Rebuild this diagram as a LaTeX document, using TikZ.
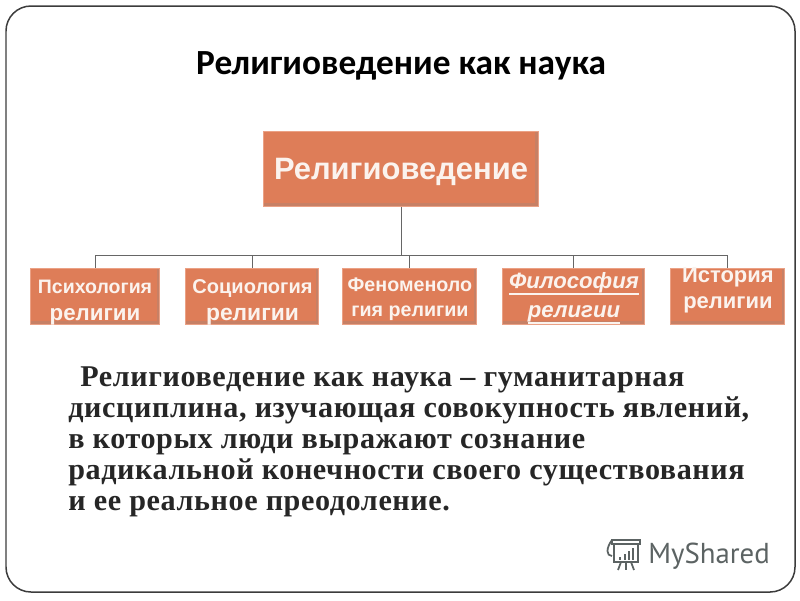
\documentclass[tikz,border=0pt]{standalone}
\usepackage{fontspec}
\setmainfont{Liberation Sans}
\newfontfamily\titlefont{Carlito}
\newfontfamily\bodyfont[LetterSpace=2.0]{Liberation Serif}
\newfontfamily\logofont{PT Sans}
\usepackage{xcolor}
\usetikzlibrary{positioning, calc}
\definecolor{boxfill}{HTML}{DE7D58}
\definecolor{boxedge}{HTML}{EBA185}
\definecolor{boxdark}{HTML}{B9603F}
\definecolor{boxtxt}{HTML}{FBF3EE}
\definecolor{framegray}{HTML}{3C3C3C}
\definecolor{logogray}{HTML}{5C6363}
\newcommand{\boxlines}[3]{\raisebox{#1}[0pt][0pt]{\begin{tabular}{@{}c@{}}#2\\#3\end{tabular}}}
\newcommand{\thickul}[1]{\smash{\vtop{\hbox{#1}\hrule height 0.9pt}}}

\begin{document}
\begin{tikzpicture}[
  x=0.02cm, y=-0.02cm,
  node distance = 0.5cm,
  bevelbox/.style = {rectangle, fill=boxfill, draw=boxedge, line width=0.02cm,
                  inner sep=0pt, align=center, text=boxtxt,
                  path picture={
                    \draw[boxdark!80, line width=0.12cm]
                      (path picture bounding box.south west) -- (path picture bounding box.south east)
                      -- (path picture bounding box.north east);
                  }},
  subbox/.style = {bevelbox, minimum height=1.12cm},
  conn/.style   = {draw=black!60, line width=0.02cm},
]
\useasboundingbox (0,0) rectangle (800,600);

%% -- frame and title --
\draw[framegray, line width=0.03cm, rounded corners=0.5cm] (6,6) rectangle (795,592);
\node[font=\titlefont\fontsize{20.1}{24}\selectfont\bfseries] (title) at (401,66) {Религиоведение как наука};

%% -- boxes --
\node[bevelbox, minimum width=5.5cm, minimum height=1.5cm,
      font=\fontsize{17.6}{21}\selectfont\bfseries] (root) at (401,168.5) {\raisebox{-0.21cm}[0pt][0pt]{Религиоведение}};
\node[subbox, minimum width=2.6cm, font=\fontsize{11.1}{15.4}\selectfont\bfseries] (psych) at (95,296)
     {\boxlines{-0.21cm}{Психология}{\fontsize{12.7}{15.4}\selectfont религии}};
\node[subbox, minimum width=2.66cm, right=0.5cm of psych, font=\fontsize{11.4}{15.4}\selectfont\bfseries] (socio)
     {\boxlines{-0.21cm}{Социология}{\fontsize{13}{15.4}\selectfont религии}};
\node[subbox, minimum width=2.68cm, right=0.46cm of socio, font=\fontsize{11.2}{13.7}\selectfont\bfseries] (phenom)
     {\boxlines{-0.16cm}{Феноменоло}{гия религии}};
\node[subbox, minimum width=2.84cm, right=0.5cm of phenom, font=\fontsize{12.6}{16.5}\selectfont\bfseries\itshape] (philos)
     {\boxlines{-0.13cm}{\thickul{Философия}}{\thickul{религии}}};
\node[subbox, minimum width=2.28cm, right=0.5cm of philos, font=\fontsize{12.5}{14.8}\selectfont\bfseries] (hist)
     {\boxlines{0cm}{История}{религии}};

%% -- connectors --
\coordinate (bus) at (401,255);
\draw[conn] (root.south) -- (bus);
\foreach \child in {psych,socio,phenom,philos,hist}
  \draw[conn] (bus) -| (\child.north);

%% -- paragraph --
\node[anchor=north west, inner sep=0pt, align=left, text=black!85,
      font=\bodyfont\fontsize{17.15}{17.65}\selectfont\bfseries] (body) at (68,366)
  {\hspace{0.24cm}Религиоведение как наука – гуманитарная\\
   дисциплина, изучающая совокупность явлений,\\
   в которых люди выражают сознание\\
   радикальной конечности своего существования\\
   и ее реальное преодоление.};

%% -- logo --
\node[anchor=base west, inner sep=0pt, text=logogray,
      font=\logofont\fontsize{16.4}{20}\selectfont] (logo) at (648,563) {MyShared};
\begin{scope}[logogray, line width=0.035cm]
  \draw (612,540) -- (640,540) -- (640,544) -- (612,544) -- cycle;
  \draw (614,544) rectangle (638,562);
  \draw (612,540) .. controls (606,548) and (606,556) .. (612,556);
  \draw (621,562) -- (618,570);
  \draw (626,562) -- (626,570);
  \draw (631,562) -- (634,570);
  \fill (619,557) rectangle (621,560);
  \fill (624,554) rectangle (626,560);
  \fill (628,551) rectangle (630,560);
  \fill (632,548) rectangle (634,560);
\end{scope}
\end{tikzpicture}
\end{document}
